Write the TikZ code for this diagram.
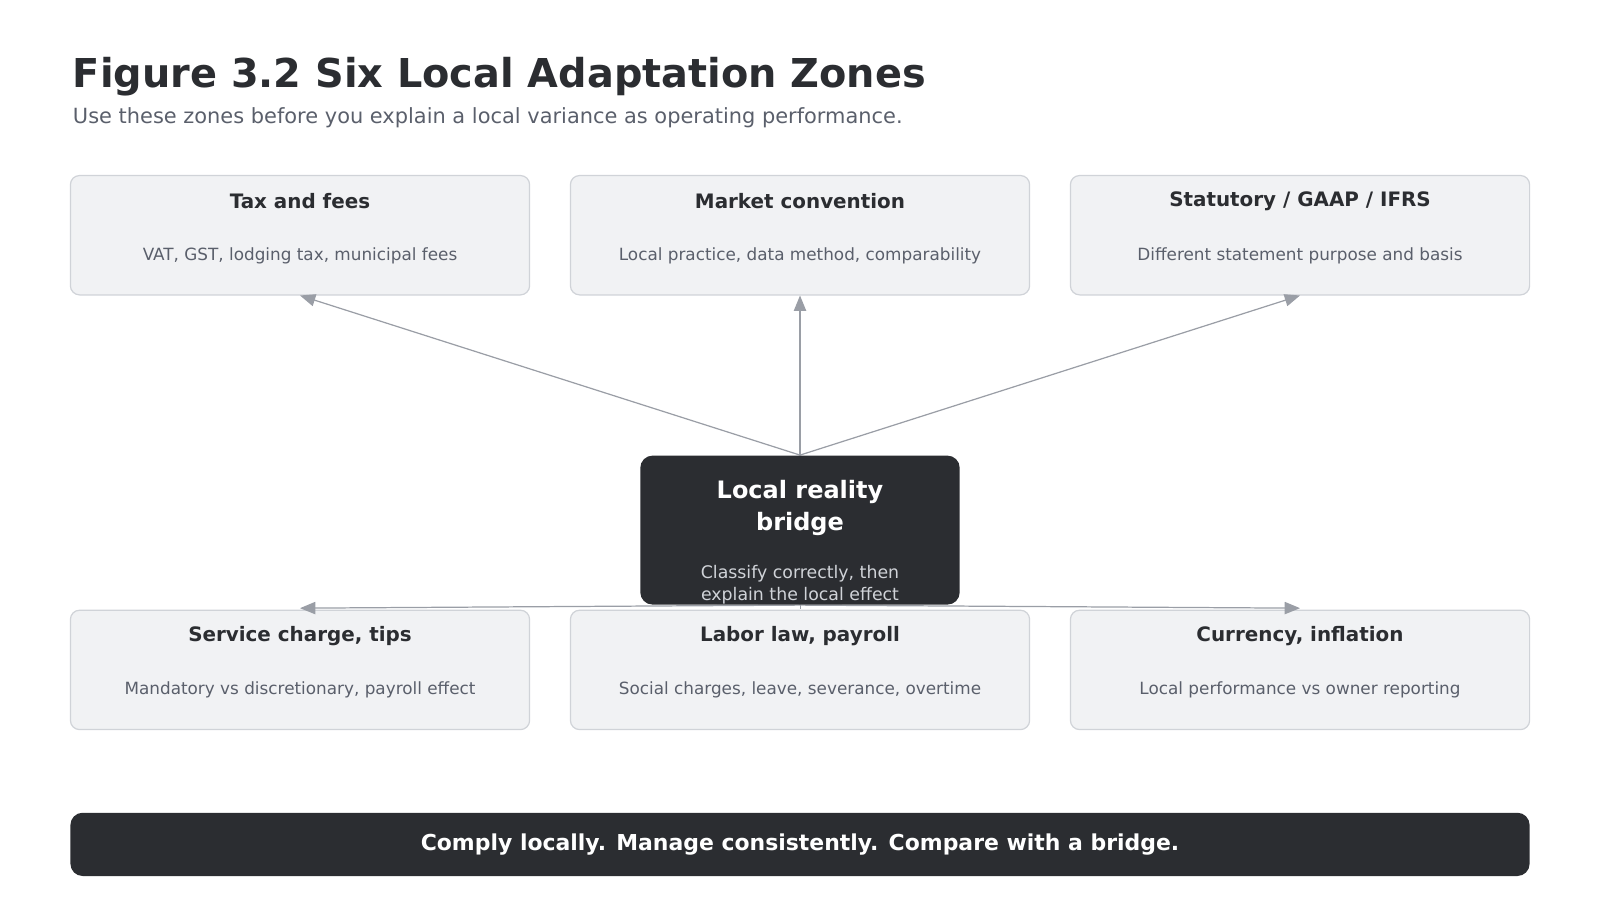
\documentclass[tikz,border=0pt]{standalone}
\usepackage{fontspec}
\setmainfont{DejaVu Sans}
\usetikzlibrary{arrows.meta}
\definecolor{ink}{HTML}{2B2D31}
\definecolor{sub}{HTML}{5A5F6B}
\definecolor{card}{HTML}{F1F2F4}
\definecolor{edge}{HTML}{D0D3D8}
\definecolor{conn}{HTML}{9A9EA6}
\tikzset{
  zone/.style={rectangle, rounded corners=9pt, fill=card, draw=edge, line width=1.2pt,
    minimum width=450pt, minimum height=117pt},
  ztitle/.style={font=\fontsize{19.5}{23}\selectfont\bfseries, text=ink},
  zbody/.style={font=\fontsize{16.5}{20}\selectfont, text=sub},
  link/.style={draw=conn, line width=1.2pt, -{Triangle[length=15pt,width=12pt]}}
}
\begin{document}
\begin{tikzpicture}[x=1pt,y=-1pt]
\node[anchor=base west, font=\fontsize{39}{46}\selectfont\bfseries, text=ink] (title) at (68,86) {Figure 3.2 Six Local Adaptation Zones};
\node[anchor=base west, font=\fontsize{20.5}{25}\selectfont, text=sub] (subtitle) at (68,121) {Use these zones before you explain a local variance as operating performance.};
% zones
\node[zone] (tax) at (294,230.5) {};
\node[zone] (mkt) at (784,230.5) {};
\node[zone] (gaap) at (1274,230.5) {};
\node[zone] (svc) at (294,656.5) {};
\node[zone] (lab) at (784,656.5) {};
\node[zone] (fx) at (1274,656.5) {};
\foreach \z/\t/\b in {tax/Tax and fees/{VAT, GST, lodging tax, municipal fees},
  mkt/Market convention/{Local practice, data method, comparability},
  gaap/{Statutory / GAAP / IFRS}/Different statement purpose and basis,
  svc/{Service charge, tips}/{Mandatory vs discretionary, payroll effect},
  lab/{Labor law, payroll}/{Social charges, leave, severance, overtime},
  fx/{Currency, inflation}/Local performance vs owner reporting}{
  \node[ztitle] (\z-t) at ([yshift=-26pt]\z.north) {\t};
  \node[zbody] (\z-b) at ([yshift=-79pt]\z.north) {\b};
}
% connectors
\coordinate (hubtop) at (784,446);
\coordinate (hubbot) at (784,593);
\coordinate (svcend) at (294,596);
\coordinate (labend) at (784,597);
\coordinate (fxend) at (1274,596);
\draw[link] (hubtop) -- (tax.south);
\draw[link] (hubtop) -- (mkt.south);
\draw[link] (hubtop) -- (gaap.south);
\draw[link] (hubbot) -- (svcend);
\draw[link] (hubbot) -- (fxend);
\draw[draw=conn, line width=1pt] (hubbot) -- (labend);
% hub
\node[rectangle, rounded corners=12pt, fill=ink, minimum width=313pt, minimum height=146pt] (hub) at (784,519.5) {};
\node[align=center, text=white, font=\fontsize{23.5}{31}\selectfont\bfseries] (hub-t) at (784,498) {Local reality\\bridge};
\node[align=center, text=edge, font=\fontsize{17}{22.5}\selectfont] (hub-b) at (784,573) {Classify correctly, then\\explain the local effect};
% footer
\node[rectangle, rounded corners=12pt, fill=ink, minimum width=1430pt, minimum height=62pt,
  text=white, font=\fontsize{21.5}{26}\selectfont\bfseries] (bar) at (784,827.5) {Comply locally. Manage consistently. Compare with a bridge.};
\pgfresetboundingbox
\useasboundingbox (0,0) rectangle (1568,882);
\end{tikzpicture}
\end{document}
